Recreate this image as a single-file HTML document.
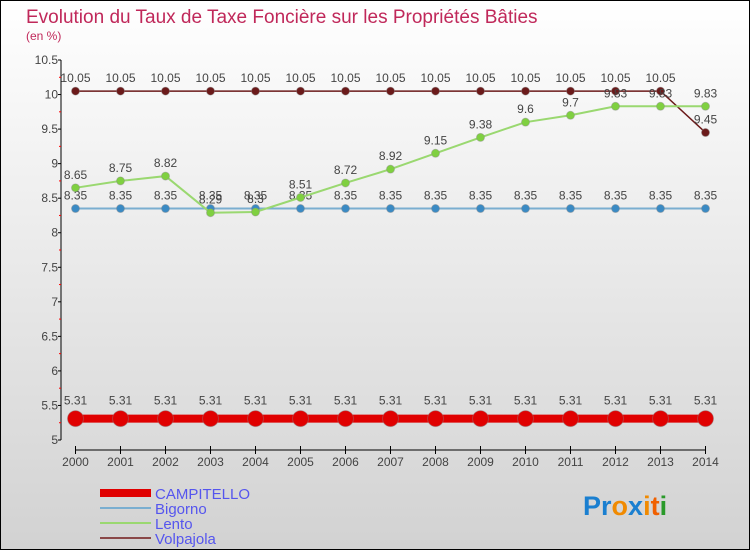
<!DOCTYPE html>
<html><head><meta charset="utf-8"><style>
body{margin:0;}
svg{display:block;font-family:"Liberation Sans",sans-serif;}
</style></head><body>
<svg id="c" width="750" height="550" viewBox="0 0 750 550">
<defs><linearGradient id="bg" x1="0" y1="0" x2="0" y2="1"><stop offset="0" stop-color="#ffffff"/><stop offset="1" stop-color="#d2d2d2"/></linearGradient></defs>
<rect x="0.5" y="0.5" width="749" height="549" fill="url(#bg)" stroke="#000"/>
<text x="26" y="23" font-size="19" fill="#c0285a">Evolution du Taux de Taxe Foncière sur les Propriétés Bâties</text>
<text x="26" y="40" font-size="12" fill="#c0285a">(en %)</text>
<g id="axes"></g><g id="series"></g><g id="legend"></g>
<text x="583" y="515" font-size="27" font-weight="bold"><tspan fill="#1a7fd0">Pr</tspan><tspan fill="#f08a00">o</tspan><tspan fill="#1a7fd0">x</tspan><tspan fill="#f08a00">i</tspan><tspan fill="#f06000">t</tspan><tspan fill="#2a9a2a">i</tspan></text>
</svg>
<script>
const years=[2000,2001,2002,2003,2004,2005,2006,2007,2008,2009,2010,2011,2012,2013,2014];
const yTicks=[5,5.5,6,6.5,7,7.5,8,8.5,9,9.5,10,10.5];
const campitello=[5.31,5.31,5.31,5.31,5.31,5.31,5.31,5.31,5.31,5.31,5.31,5.31,5.31,5.31,5.31];
const bigorno=[8.35,8.35,8.35,8.35,8.35,8.35,8.35,8.35,8.35,8.35,8.35,8.35,8.35,8.35,8.35];
const lento=[8.65,8.75,8.82,8.29,8.3,8.51,8.72,8.92,9.15,9.38,9.6,9.7,9.83,9.83,9.83];
const volpajola=[10.05,10.05,10.05,10.05,10.05,10.05,10.05,10.05,10.05,10.05,10.05,10.05,10.05,10.05,9.45];
const NS="http://www.w3.org/2000/svg";
const X=i=>75.5+i*45;
const Y=v=>440-(v-5)*380/5.5;
function mk(p,t,a){const e=document.createElementNS(NS,t);for(const k in a)e.setAttribute(k,a[k]);p.appendChild(e);return e;}
const ax=document.getElementById('axes');
const yl=mk(ax,'line',{x1:61,y1:60,x2:61,y2:440,stroke:'#000'});


yTicks.forEach((v,i)=>{
 mk(ax,'line',{x1:58,x2:61,y1:Y(v),y2:Y(v),stroke:'#000'});
 if(i<yTicks.length-1) mk(ax,'line',{x1:59,x2:61,y1:Y(v+0.25),y2:Y(v+0.25),stroke:'#f00'});
 const t=mk(ax,'text',{x:58,y:Y(v)+4,'text-anchor':'end','font-size':12,fill:'#444'});
 t.textContent=String(v);
 
 
});
const xl=mk(ax,'line',{x1:X(0),y1:450,x2:X(14),y2:450,stroke:'#000'});


years.forEach((y,i)=>{
 mk(ax,'line',{x1:X(i),x2:X(i),y1:446,y2:454,stroke:'#000'});
 const t=mk(ax,'text',{x:X(i),y:466,'text-anchor':'middle','font-size':12,fill:'#444'});
 t.textContent=y;
 
 
});
const sg=document.getElementById('series');
const defs=[
 {d:volpajola,c:'#6b1a1a',w:1.5,r:4,n:'volpajola'},
 {d:bigorno,c:'#3a8ac4',lc:'#7aaed0',w:2,r:4,n:'bigorno'},
 {d:lento,c:'#7fd040',lc:'#9ad870',w:2,r:4,n:'lento'},
 {d:campitello,c:'#e00000',w:8,r:8,n:'campitello'}];
defs.forEach(s=>{
 const g=mk(sg,'g',{});
 
 
 const pl=mk(g,'polyline',{points:s.d.map((v,i)=>X(i)+','+Y(v)).join(' '),fill:'none',stroke:s.lc||s.c,'stroke-width':s.w});
 
 
 s.d.forEach((v,i)=>{
  const c=mk(g,'circle',{cx:X(i),cy:Y(v),r:s.r,fill:s.c,stroke:'#888','stroke-opacity':0.4});
  
  
  const t=mk(g,'text',{x:X(i),y:Y(v)-(s.r>5?14:9),'text-anchor':'middle','font-size':12,fill:'#444'});
  t.textContent=String(v);
  
  
 });
});
const lg=document.getElementById('legend');
[['CAMPITELLO','#e00000',8],['Bigorno','#7aaed0',2],['Lento','#9ad870',2],['Volpajola','#8a4848',2]].forEach((e,i)=>{
 const y=493+i*15;
 const l=mk(lg,'line',{x1:100,x2:151,y1:y,y2:y,stroke:e[1],'stroke-width':e[2]});
 
 
 const t=mk(lg,'text',{x:155,y:y+6,'font-size':15,fill:'#5555ee'});
 t.textContent=e[0];
 
 
});
</script>
</body></html>
